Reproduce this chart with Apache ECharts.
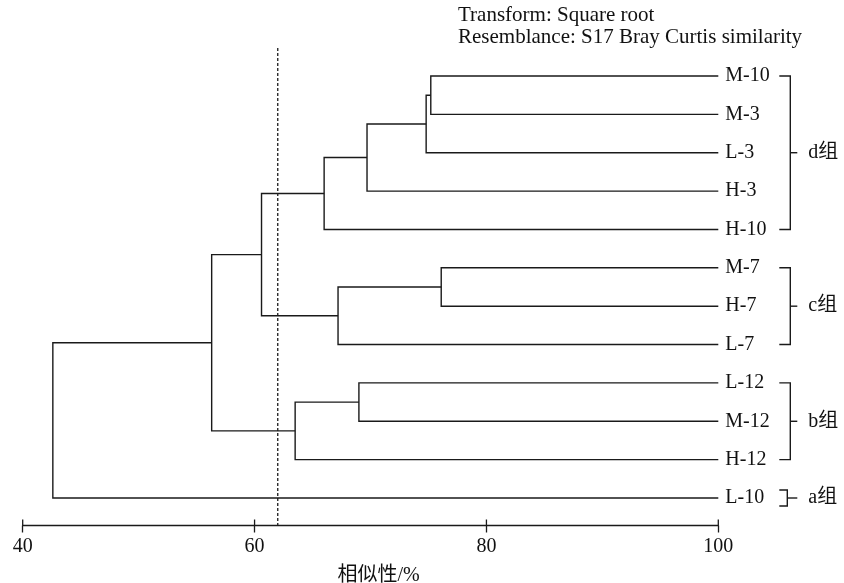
<!DOCTYPE html>
<html>
<head>
<meta charset="utf-8">
<script src="https://cdn.jsdelivr.net/npm/echarts@6/dist/echarts.min.js"></script>
<style>
html,body{margin:0;padding:0;background:#fff;}
#chart{width:844px;height:583px;}
</style>
</head>
<body>
<div id="chart"></div>
<script>
// ---- data ----
const leaves = ['M-10','M-3','L-3','H-3','H-10','M-7','H-7','L-7','L-12','M-12','H-12','L-10'];
// merges: node index = 12 + merge index
const mergeA = [0, 12, 13, 14, 5, 16, 8, 18, 15, 20, 21];
const mergeB = [1, 2, 3, 4, 6, 7, 9, 10, 17, 19, 11];
const mergeSim = [75.2, 74.8, 69.7, 66.0, 76.1, 67.2, 69.0, 63.5, 60.6, 56.3, 42.6];
const xTicks = [40, 60, 80, 100];
const cutoff = 62;
const groupNames = ['d组', 'c组', 'b组', 'a组'];
const groupStart = [0, 5, 8, 11];
const groupEnd = [4, 7, 10, 11];
const titleLines = ['Transform: Square root', 'Resemblance: S17 Bray Curtis similarity'];
const xName = '相似性/%';

// ---- build node positions ----
const leafSim = xTicks[xTicks.length - 1];
const nodeX = leaves.map(() => leafSim);
const nodeY = leaves.map((_, i) => i);
for (let i = 0; i < mergeSim.length; i++) {
  nodeX.push(mergeSim[i]);
  nodeY.push((nodeY[mergeA[i]] + nodeY[mergeB[i]]) / 2);
}
const linkData = mergeSim.map((s, i) => [s, nodeX[mergeA[i]], nodeY[mergeA[i]], nodeX[mergeB[i]], nodeY[mergeB[i]]]);
const groupData = groupNames.map((g, i) => [groupStart[i], groupEnd[i]]);
const tickData = xTicks.map(v => [v]);

const serif = '"Liberation Serif", "Times New Roman", "Noto Sans CJK SC", serif';
const lineColor = '#1a1a1a';

const gridTop = 76, gridBottom = 85, axisOffset = 27.5;

const chart = echarts.init(document.getElementById('chart'));
chart.setOption({
  animation: false,
  backgroundColor: '#fff',
  title: {
    text: titleLines.join('\n'),
    left: 458, top: 4, padding: 0,
    textStyle: { fontFamily: serif, fontSize: 21, fontWeight: 'normal', color: '#111', lineHeight: 22 }
  },
  grid: { left: 22.7, right: 125.7, top: gridTop, bottom: gridBottom, containLabel: false, outerBoundsMode: 'none' },
  xAxis: [{
    type: 'value', min: 40, max: 100, interval: 20, position: 'bottom', offset: axisOffset,
    axisLine: { show: true, onZero: false, lineStyle: { color: lineColor, width: 1.3 } },
    axisTick: { show: true, inside: false, length: 7, lineStyle: { color: lineColor, width: 1.3 } },
    axisLabel: { show: true, margin: 11, fontFamily: serif, fontSize: 20, color: '#111' },
    splitLine: { show: false },
    name: xName, nameLocation: 'middle', nameGap: 40,
    nameTextStyle: { fontFamily: serif, fontSize: 20, color: '#111', padding: [0, 0, 0, 16] }
  }],
  yAxis: [{
    type: 'value', min: 0, max: 11, inverse: true, show: false
  }, {
    type: 'category', data: leaves, inverse: true, boundaryGap: false, position: 'right',
    axisLine: { show: false, onZero: false }, axisTick: { show: false },
    axisLabel: { margin: 7, fontFamily: serif, fontSize: 20, color: '#111' }
  }],
  series: [{
    type: 'custom', xAxisIndex: 0, yAxisIndex: 0,
    data: linkData,
    renderItem: function (params, api) {
      const s = api.value(0);
      const a = api.coord([api.value(1), api.value(2)]);
      const m1 = api.coord([s, api.value(2)]);
      const m2 = api.coord([s, api.value(4)]);
      const b = api.coord([api.value(3), api.value(4)]);
      return {
        type: 'polyline',
        shape: { points: [a, m1, m2, b] },
        style: { fill: null, stroke: lineColor, lineWidth: 1.4 }
      };
    }
  }, {
    type: 'custom', xAxisIndex: 0, yAxisIndex: 0,
    data: [[cutoff]],
    renderItem: function (params, api) {
      const p0 = api.coord([api.value(0), 0]);
      const p1 = api.coord([api.value(0), leaves.length - 1]);
      return {
        type: 'line',
        shape: { x1: p0[0], y1: p0[1] - 28, x2: p1[0], y2: p1[1] + axisOffset },
        style: { stroke: lineColor, lineWidth: 1.3, lineDash: [3, 2] }
      };
    }
  }, {
    // upper half of the crossing axis ticks
    type: 'custom', xAxisIndex: 0, yAxisIndex: 0,
    data: tickData,
    renderItem: function (params, api) {
      const p = api.coord([api.value(0), leaves.length - 1]);
      const y = p[1] + axisOffset;
      return {
        type: 'line',
        shape: { x1: p[0], y1: y - 6, x2: p[0], y2: y },
        style: { stroke: lineColor, lineWidth: 1.3 }
      };
    }
  }, {
    type: 'custom', xAxisIndex: 0, yAxisIndex: 0,
    data: groupData,
    renderItem: function (params, api) {
      const st = api.value(0), en = api.value(1);
      const p0 = api.coord([leafSim, st]);
      const p1 = api.coord([leafSim, en]);
      let yt = p0[1], yb = p1[1];
      let xv = p0[0] + 72;
      if (st === en) { yt -= 8; yb += 8; xv = p0[0] + 69; }
      const xs = p0[0] + 61;
      const ym = (yt + yb) / 2;
      return {
        type: 'group',
        children: [{
          type: 'polyline',
          shape: { points: [[xs, yt], [xv, yt], [xv, yb], [xs, yb]] },
          style: { fill: null, stroke: lineColor, lineWidth: 1.4 }
        }, {
          type: 'line',
          shape: { x1: xv, y1: ym, x2: p0[0] + 79, y2: ym },
          style: { stroke: lineColor, lineWidth: 1.4 }
        }, {
          type: 'text',
          style: {
            text: groupNames[params.dataIndex], x: p0[0] + 90, y: ym,
            align: 'left', verticalAlign: 'middle',
            font: '20px ' + serif, fill: '#111'
          }
        }]
      };
    }
  }]
});
</script>
</body>
</html>
